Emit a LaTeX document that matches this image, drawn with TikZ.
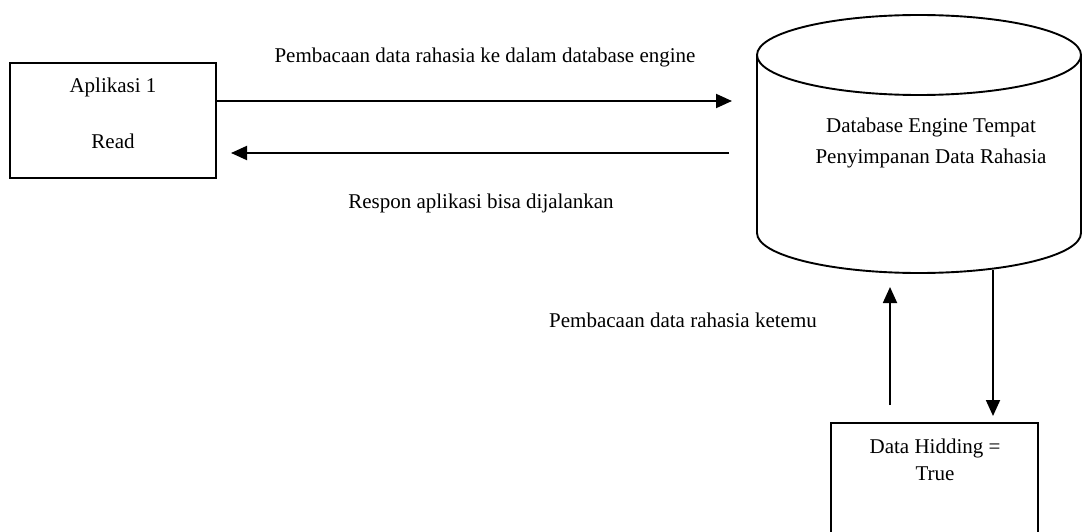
\documentclass[tikz,border=0pt]{standalone}
\usepackage{fontspec}
\setmainfont{Liberation Serif}
\usetikzlibrary{arrows.meta}
\begin{document}
\begin{tikzpicture}[x=1pt,y=-1pt,
  line/.style={line width=1.9pt},
  flow/.style={line, -{Triangle[length=16pt,width=14pt]}},
  box/.style={draw, line width=1.9pt, inner sep=0pt},
  lbl/.style={font=\fontsize{21}{25}\selectfont, anchor=base, inner sep=0pt}]
\useasboundingbox (0,0) rectangle (1083,532);
\clip (0,0) rectangle (1083,532);

% application box
\node[box, minimum width=206pt, minimum height=115pt] (app) at (113,120.5) {};
\node[lbl] (appname) at (113,93) {Aplikasi 1};
\node[lbl] (appmode) at (113,148) {Read};

% database engine (cylinder)
\draw[line] (757,55) -- (757,233)
  arc[start angle=180, end angle=0, x radius=162, y radius=40] -- (1081,55);
\draw[line] (919,55) ellipse[x radius=162, y radius=40];
\node[lbl] (dbline1) at (931,132) {Database Engine Tempat};
\node[lbl] (dbline2) at (931,163) {Penyimpanan Data Rahasia};

% data hiding box
\node[box, minimum width=207pt, minimum height=140pt, anchor=north] (hide) at (934.5,422) {};
\node[lbl] (hideline1) at (935,453) {Data Hidding =};
\node[lbl] (hideline2) at (935,480) {True};

% connector end points
\coordinate (reqend) at (732,101);
\coordinate (respstart) at (729,153);
\coordinate (resptip) at (231,153);
\coordinate (upstart) at (890,405);
\coordinate (uptip) at (890,287);
\coordinate (downstart) at (993,270);
\coordinate (downtip) at (993,416);

% connectors
\draw[flow] (app.east |- reqend) -- (reqend);
\draw[flow] (respstart) -- (resptip);
\draw[flow] (upstart) -- (uptip);
\draw[flow] (downstart) -- (downtip);

% connector labels
\node[lbl] (reqlabel) at (485,63) {Pembacaan data rahasia ke dalam database engine};
\node[lbl] (resplabel) at (481,208) {Respon aplikasi bisa dijalankan};
\node[lbl] (foundlabel) at (683,327) {Pembacaan data rahasia ketemu};
\end{tikzpicture}
\end{document}
